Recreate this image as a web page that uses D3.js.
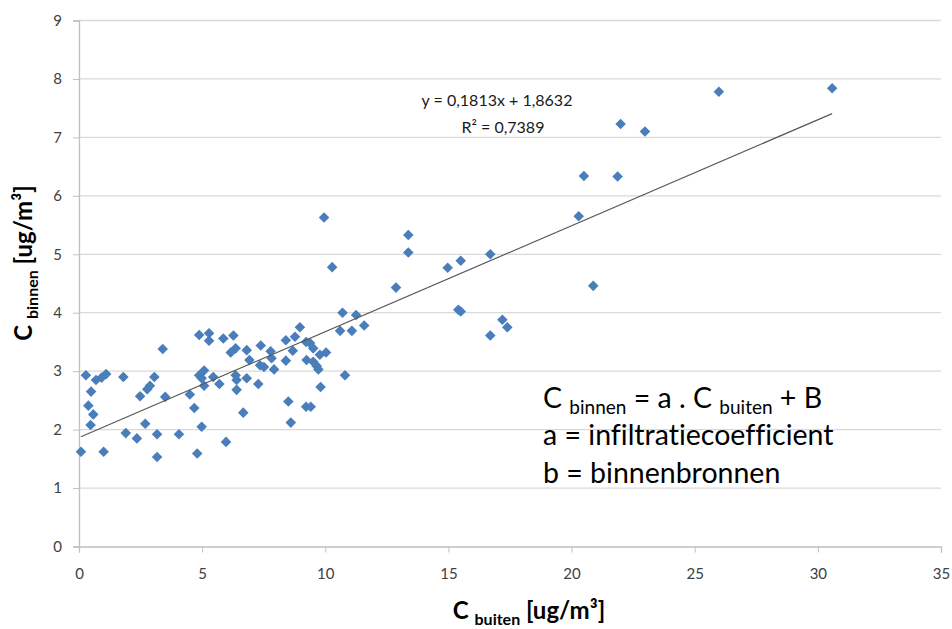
<!DOCTYPE html>
<html>
<head>
<meta charset="utf-8">
<script src="https://cdn.jsdelivr.net/npm/d3@7"></script>
<style>
  body { margin: 0; background: #fff; }
  text { font-family: Lato, "Open Sans", sans-serif; font-variant-ligatures: none; }
</style>
</head>
<body>
<div id="chart"></div>
<script>
// outdoor concentration (x) and indoor concentration (y)
var buiten = [0.08, 1.0, 2.35, 3.17, 4.8, 5.97, 0.28, 0.49, 0.38, 0.58, 0.47, 0.69, 0.92, 1.1, 1.8, 1.9,
  2.48, 2.69, 2.77, 2.88, 3.06, 3.17, 3.4, 3.5, 4.06, 4.5, 4.68, 4.88, 4.98, 5.28, 5.28, 4.88, 5.08, 4.98,
  5.08, 5.45, 5.7, 5.86, 6.27, 6.16, 6.36, 6.36, 6.4, 6.4, 6.67, 6.81, 6.81, 6.92, 7.28, 7.38, 7.35, 7.51,
  7.78, 7.82, 7.92, 8.4, 8.4, 8.5, 8.6, 8.68, 8.77, 8.97, 9.22, 9.38, 9.51, 9.22, 9.41, 9.24, 9.51, 9.65,
  9.72, 9.81, 9.78, 10.03, 10.7, 10.6, 10.8, 11.08, 11.25, 11.58, 9.95, 13.37, 13.37, 10.28, 12.87, 14.97,
  15.5, 15.4, 15.5, 16.7, 20.88, 17.19, 17.39, 16.7, 25.98, 30.58, 21.99, 22.98, 20.5, 21.87, 20.29];
var binnen = [1.62, 1.62, 1.85, 1.53, 1.59, 1.79, 2.93, 2.65, 2.41, 2.26, 2.08, 2.85, 2.89, 2.95, 2.9, 1.94,
  2.57, 2.1, 2.69, 2.75, 2.9, 1.92, 3.38, 2.56, 1.92, 2.6, 2.37, 3.62, 2.05, 3.65, 3.52, 2.93, 3.01, 2.88,
  2.75, 2.9, 2.78, 3.56, 3.61, 3.32, 3.39, 2.93, 2.85, 2.68, 2.29, 2.88, 3.36, 3.19, 2.78, 3.44, 3.1, 3.07,
  3.34, 3.22, 3.03, 3.53, 3.18, 2.48, 2.12, 3.35, 3.59, 3.75, 3.5, 3.48, 3.39, 2.39, 2.39, 3.19, 3.16, 3.09,
  3.03, 2.73, 3.28, 3.32, 4.0, 3.69, 2.93, 3.69, 3.96, 3.78, 5.63, 5.33, 5.03, 4.78, 4.43, 4.77,
  4.89, 4.05, 4.02, 5.0, 4.46, 3.88, 3.75, 3.61, 7.78, 7.84, 7.23, 7.1, 6.34, 6.33, 5.65];

var xTicks = [0, 5, 10, 15, 20, 25, 30, 35];
var yTicks = [0, 1, 2, 3, 4, 5, 6, 7, 8, 9];

// trend line coefficients (as printed on the chart)
var slope = 0.1813, intercept = 1.8632;
var eqLabel = "y = 0,1813x + 1,8632";
var r2Label = "R² = 0,7389";

var w = 952, h = 629;
var margin = {top: 20.5, right: 11, bottom: 82.5, left: 79};

var points = buiten.map((x, i) => ({x: x, y: binnen[i]}));

var svg = d3.select("#chart").append("svg")
    .attr("width", w)
    .attr("height", h);

var xScale = d3.scaleLinear().domain([0, 35]).range([margin.left, w - margin.right]);
var yScale = d3.scaleLinear().domain([0, 9]).range([h - margin.bottom, margin.top]);

// horizontal gridlines
svg.append("g")
    .selectAll("line")
    .data(yTicks.slice(1))
    .enter()
    .append("line")
    .attr("x1", xScale(0))
    .attr("x2", xScale(35))
    .attr("y1", d => yScale(d))
    .attr("y2", d => yScale(d))
    .attr("stroke", "#d9d9d9")
    .attr("stroke-width", 1.3);

// x axis
var xAxis = svg.append("g")
    .attr("transform", `translate(0,${yScale(0)})`)
    .call(d3.axisBottom(xScale).tickValues(xTicks).tickSize(6).tickPadding(16));
xAxis.select(".domain").attr("stroke", "#bfbfbf").attr("stroke-width", 1.3);
xAxis.selectAll(".tick line").attr("stroke", "#bfbfbf");
xAxis.selectAll("text").attr("fill", "#404040").style("font-size", "15px");

// y axis
var yAxis = svg.append("g")
    .attr("transform", `translate(${xScale(0)},0)`)
    .call(d3.axisLeft(yScale).tickValues(yTicks).tickSize(6).tickPadding(11));
yAxis.select(".domain").attr("stroke", "#bfbfbf").attr("stroke-width", 1.3);
yAxis.selectAll(".tick line").attr("stroke", "#bfbfbf");
yAxis.selectAll("text").attr("fill", "#404040").style("font-size", "15px");

// scatter points (diamonds)
var diamond = d3.symbol().type(d3.symbolSquare).size(56);
svg.append("g")
    .selectAll("path")
    .data(points)
    .enter()
    .append("path")
    .attr("d", diamond)
    .attr("transform", d => `translate(${xScale(d.x)},${yScale(d.y)}) rotate(45)`)
    .attr("fill", "#4a7ebb");

// linear trend line over the range of the data
var xExt = d3.extent(buiten);
svg.append("line")
    .attr("x1", xScale(xExt[0]))
    .attr("y1", yScale(slope * xExt[0] + intercept))
    .attr("x2", xScale(xExt[1]))
    .attr("y2", yScale(slope * xExt[1] + intercept))
    .attr("stroke", "#595959")
    .attr("stroke-width", 1.2);

// equation labels
svg.append("text")
    .attr("x", 497).attr("y", 106)
    .attr("text-anchor", "middle")
    .style("font-size", "16px")
    .attr("fill", "#1a1a1a")
    .text(eqLabel);
svg.append("text")
    .attr("x", 503).attr("y", 133)
    .attr("text-anchor", "middle")
    .style("font-size", "16px")
    .attr("fill", "#1a1a1a")
    .text(r2Label);

// model annotation
var note = svg.append("g").attr("fill", "#000").style("font-size", "28.5px");
var l1 = note.append("text").attr("x", 543).attr("y", 408);
l1.append("tspan").text("C ");
l1.append("tspan").attr("dy", 6).style("font-size", "19px").text("binnen");
l1.append("tspan").attr("dy", -6).text(" = a . C ");
l1.append("tspan").attr("dy", 6).style("font-size", "19px").text("buiten");
l1.append("tspan").attr("dy", -6).text(" + B");
note.append("text").attr("x", 543).attr("y", 445).text("a = infiltratiecoefficient");
note.append("text").attr("x", 543).attr("y", 483).text("b = binnenbronnen");

// x axis title
var xt = svg.append("text")
    .attr("x", 529).attr("y", 619)
    .attr("text-anchor", "middle")
    .style("font-weight", "bold")
    .style("font-size", "24px")
    .attr("fill", "#000");
xt.append("tspan").text("C ");
xt.append("tspan").attr("dy", 6).style("font-size", "16px").text("buiten");
xt.append("tspan").attr("dy", -6).text(" [ug/m³]");

// y axis title
var yt = svg.append("text")
    .attr("transform", "translate(32,263) rotate(-90)")
    .attr("text-anchor", "middle")
    .style("font-weight", "bold")
    .style("font-size", "24px")
    .attr("fill", "#000");
yt.append("tspan").text("C ");
yt.append("tspan").attr("dy", 6).style("font-size", "16px").text("binnen");
yt.append("tspan").attr("dy", -6).text(" [ug/m³]");
</script>
</body>
</html>
